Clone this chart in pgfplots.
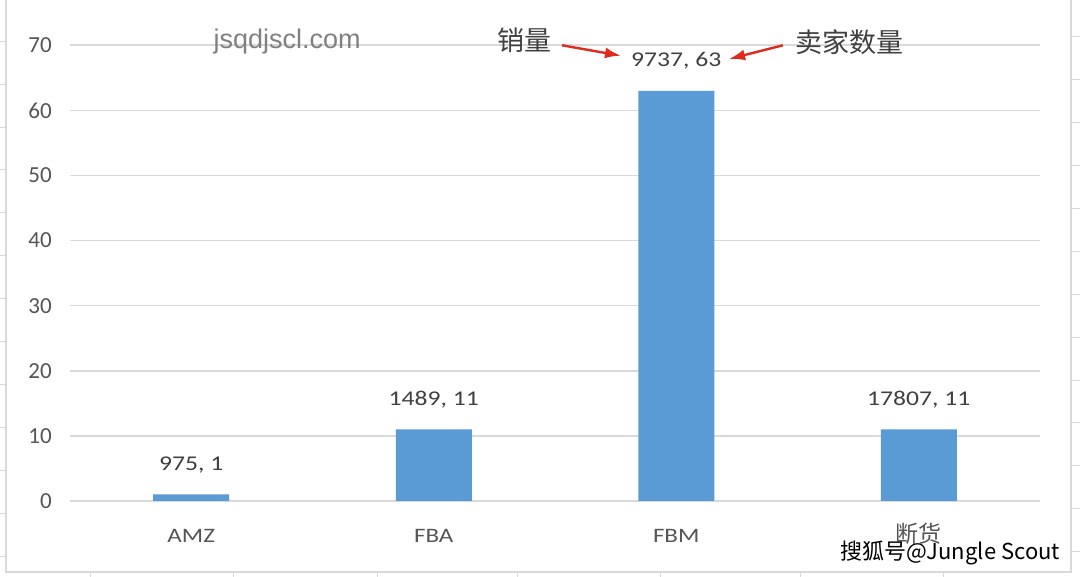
\documentclass[border=0pt]{standalone}
\usepackage{pgfplots}
\pgfplotsset{compat=1.18}
\usepackage{pgfplotstable}
\usepackage{fontspec}
\setmainfont{Carlito}
\newfontfamily\catfont{Carlito}[FakeStretch=1.22]
\newfontfamily\cjk{Noto Sans CJK SC}
\newfontfamily\libsans{Liberation Sans}
\usetikzlibrary{arrows.meta}
\definecolor{barblue}{HTML}{5B9BD5}
\definecolor{gridgray}{HTML}{D9D9D9}
\definecolor{ticktext}{HTML}{555555}
\definecolor{labtext}{HTML}{404040}
\definecolor{arrowred}{HTML}{E02A1E}
\pgfplotstableread{
x sellers sales
0 1 975
1 11 1489
2 63 9737
3 11 17807
}\datatable
\begin{document}
\begin{tikzpicture}
\path[use as bounding box, fill=white] (0,0) rectangle (1080pt,577pt);
% spreadsheet frame and cells
\draw[gridgray, line width=1.2pt] (6pt,577pt) -- (6pt,5pt) -- (1071pt,5pt) -- (1071pt,577pt);
\foreach \yy in {42,85,128,170,213,256,299,342,385,428,471,514,557}
  \draw[gridgray, line width=1pt] (0pt,577pt-\yy pt) -- (6pt,577pt-\yy pt);
\foreach \yy in {37,80,123,166,209,252,295,338,381,423,466,509,552}
  \draw[gridgray, line width=1pt] (1071pt,577pt-\yy pt) -- (1080pt,577pt-\yy pt);
\foreach \xx in {90,233,377,517,660,800,943}
  \draw[gridgray, line width=1pt] (\xx pt,0pt) -- (\xx pt,5pt);
\begin{axis}[
  at={(70pt,76pt)}, anchor=south west,
  scale only axis, width=970pt, height=455.7pt,
  xmin=-0.5, xmax=3.5, ymin=0, ymax=70,
  ytick={0,10,...,70},
  xtick=data,
  xticklabels={AMZ,FBA,FBM,{\cjk\fontsize{23}{26}\selectfont 断货}},
  axis line style={draw=none},
  major tick length=0pt,
  ymajorgrids,
  grid style={gridgray, line width=1.6pt},
  /pgf/number format/assume math mode=true,
  yticklabel style={font=\fontsize{23}{26}\selectfont, color=ticktext, anchor=east, inner sep=0pt, xshift=-18pt},
  xticklabel style={font=\catfont\fontsize{20.5}{24}\selectfont, color=ticktext, anchor=base, inner sep=0pt, yshift=-42pt},
  clip=false,
  ybar, bar width=76pt, bar shift=0pt,
  nodes near coords={\pgfmathprintnumber[fixed, precision=0, 1000 sep={}]{\sales}, \pgfmathprintnumber{\pgfplotspointmeta}},
  every node near coord/.append style={anchor=base, inner sep=0pt, yshift=24pt, font=\catfont\fontsize{21}{24}\selectfont, color=labtext},
]
\addplot[fill=barblue, draw=none,
  visualization depends on={\thisrow{sales} \as \sales}]
  table[x=x, y=sellers] {\datatable};
% annotations
\node[font=\cjk\fontsize{27}{30}\selectfont, color=labtext] at (axis cs:1.376,70.8) {销量};
\node[font=\cjk\fontsize{27}{30}\selectfont, color=labtext] at (axis cs:2.716,70.5) {卖家数量};
\draw[arrowred, line width=2.4pt, -{Latex[length=16pt,width=11pt]}] (axis cs:1.529,70.0) -- (axis cs:1.772,68.4);
\draw[arrowred, line width=2.4pt, -{Latex[length=16pt,width=11pt]}] (axis cs:2.440,70.0) -- (axis cs:2.218,67.9);
\node[font=\libsans\fontsize{27}{30}\selectfont, color=gray] at (axis cs:0.395,70.6) {jsqdjscl.com};
\end{axis}
\node[font=\cjk\fontsize{22}{26}\selectfont, text=black, draw=none] at (950pt,24pt) {搜狐号@Jungle Scout};
\end{tikzpicture}
\end{document}
